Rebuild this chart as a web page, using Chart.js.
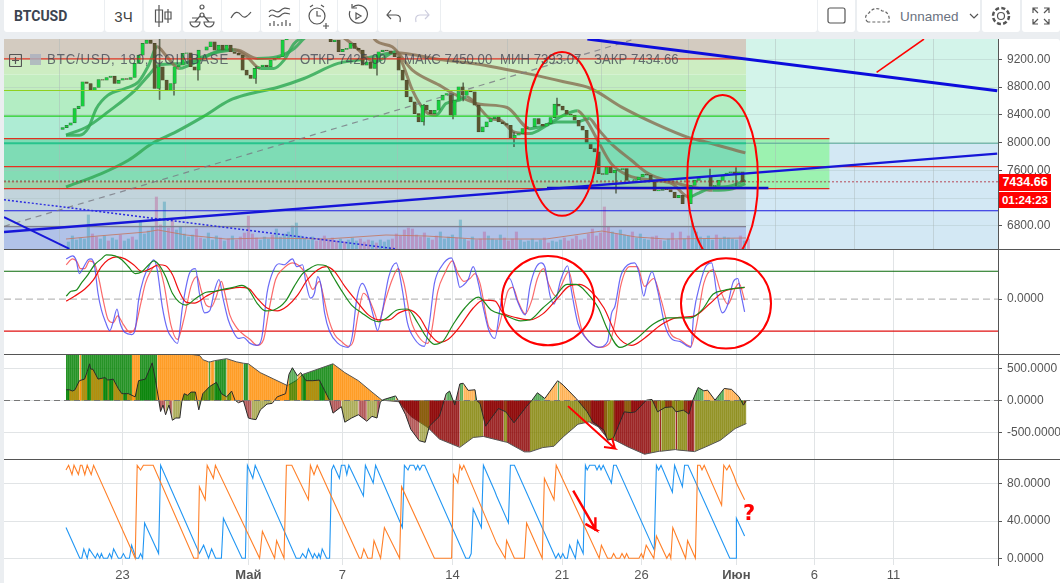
<!DOCTYPE html>
<html lang="ru"><head><meta charset="utf-8">
<script src="https://cdn.jsdelivr.net/npm/chart.js@4"></script>
<style>
html,body{margin:0;padding:0;background:#ebeef1;width:1060px;height:583px;overflow:hidden;font-family:"Liberation Sans",Arial,sans-serif}
canvas{position:absolute;left:4px}
.tb{position:absolute;top:0;height:32px;background:#fff;display:flex;align-items:center;justify-content:center;color:#444;font-size:14px;border-radius:0 0 3px 3px}
.sep{position:absolute;left:4px;width:1056px;height:1px;background:#555}
.ov{position:absolute;white-space:nowrap}
.lg{top:50px;font-size:15px;color:rgba(60,66,80,.75);transform:scaleX(.88);transform-origin:left center}
svg{fill:none;stroke:#555;stroke-width:1.2}
#bottomfill{position:absolute;left:4px;top:39px;width:1056px;height:544px;background:#fff;border-radius:3px 3px 0 0}
</style></head><body>
<div id="bottomfill"></div>
<div class="tb" style="left:4px;width:100px;font-weight:bold;font-size:14px;font-family:Roboto;color:#3c4450;justify-content:flex-start;padding-left:0"><span style="margin-left:10px">BTCUSD</span></div>
<div class="tb" style="left:105px;width:37px;font-size:15px">3Ч</div>
<div class="tb" style="left:144px;width:37px"><svg width="20" height="24"><path d="M6 1v22M2.500 6h7v12h-7zM15 5v14M12 8h6v7h-6z"/></svg></div>
<div class="tb" style="left:183px;width:38px"><svg width="26" height="24"><circle cx="13" cy="3" r="2"/><circle cx="13" cy="11" r="2"/><path d="M1 18a5 5 0 0 0 10 0zM15 18a5 5 0 0 0 10 0zM6 18l5-6M20 18l-5-6M3 14h7M16 14h7"/></svg></div>
<div class="tb" style="left:222px;width:38px"><svg width="24" height="20"><path d="M2 12c4-7 7-7 10-3s6 2 10-3"/></svg></div>
<div class="tb" style="left:261px;width:38px"><svg width="24" height="24"><path d="M1 8c4-6 7 3 11-1s6-3 10-2M1 13c4-6 7 3 11-1s6-3 10-2M2 22v-3M6 22v-5M10 22v-2M14 22v-4M18 22v-6M22 22v-3"/></svg></div>
<div class="tb" style="left:300px;width:37px"><svg width="24" height="26"><circle cx="10" cy="13" r="8"/><path d="M10 8v5h4M3 4l3-2M14 2l3 2M19 20v6M16 23h6"/></svg></div>
<div class="tb" style="left:338px;width:39px"><svg width="22" height="24"><path d="M6 3a9 9 0 1 1-3 4M5 0v4h5M9 9l5 3-5 3z"/></svg></div>
<div class="tb" style="left:378px;width:62px"><svg width="50" height="18"><path d="M4 8h8c4 0 5 3 4 7M7 3L3 8l4 4"/><path stroke="#ccd" d="M44 8h-8c-4 0-5 3-4 7M41 3l4 5-4 4"/></svg></div>
<div class="tb" style="left:441px;width:376px"></div>
<div class="tb" style="left:818px;width:37px"><svg width="20" height="20"><rect x="1" y="2" width="17" height="15" rx="2"/></svg></div>
<div class="tb" style="left:857px;width:123px;justify-content:flex-start;color:#6b7280;font-size:13.500px"><svg width="28" height="18" style="margin:0 7px 0 8px;stroke:#666;stroke-dasharray:3 2"><path d="M3 15a5 5 0 0 1 1-9c3-5 10-6 13-2c6 0 8 6 7 11z"/></svg>Unnamed<svg width="10" height="8" style="margin-left:10px"><path d="M1 2l4 4 4-4"/></svg></div>
<div class="tb" style="left:982px;width:38px"><svg width="22" height="22"><circle cx="11" cy="11" r="3.500"/><circle cx="11" cy="11" r="8" stroke-dasharray="4 2.300" stroke-width="2.500"/></svg></div>
<div class="tb" style="left:1022px;width:38px"><svg width="20" height="20"><path d="M2 7V2h5M18 7V2h-5M2 13v5h5M18 13v5h-5M2 2l5 5M18 2l-5 5M2 18l5-5M18 18l-5-5"/></svg></div>

<canvas id="c1" width="1056" height="210" style="top:39px"></canvas>
<canvas id="c2" width="1056" height="104" style="top:250px"></canvas>
<canvas id="c3" width="1056" height="104" style="top:355px"></canvas>
<canvas id="c4" width="1056" height="124" style="top:459px"></canvas>
<div class="sep" style="top:249px"></div><div class="sep" style="top:354px"></div><div class="sep" style="top:459px"></div>

<div class="ov" style="left:9px;top:53px"><svg width="13" height="13"><rect x=".5" y=".5" width="12" height="12" rx="1"/><path d="M6.500 3v7M3 6.500h7"/></svg></div>
<div class="ov" style="left:30px;top:54px;width:11px;height:11px;background:rgba(170,175,190,.8)"></div>
<div class="ov lg" style="left:47px;letter-spacing:1px">BTC/USD, 180, COINBASE</div>
<div class="ov lg" style="left:300px">ОТКР 7425.00</div>
<div class="ov lg" style="left:404px">МАКС 7450.00</div>
<div class="ov lg" style="left:500px">МИН 7393.07</div>
<div class="ov lg" style="left:594px">ЗАКР 7434.66</div>
<div class="ov" style="left:999px;top:174px;width:52px;height:17px;background:#f00;color:#fff;font-weight:bold;font-size:12.5px;line-height:17px;text-align:center">7434.66</div>
<div class="ov" style="left:999px;top:191px;width:52px;height:16px;background:#f00;color:#fff;font-weight:bold;font-size:11.500px;line-height:16px;text-align:center;border-top:1px solid #fff">01:24:23</div>
<div class="ov" style="left:743px;top:501px;font-size:21px;font-weight:bold;color:#f00;font-family:'DejaVu Sans'">?</div>

<script>
// x axis: position counted in 3-hour bars from the first candle
const xMin = -31, xMax = 466, dataEnd = 340;
const xTickPos = [28.2, 91.2, 138.2, 193.2, 248, 287.7, 335.2, 374.2, 413.8];
const xTickLabels = ['23', 'Май', '7', '14', '21', '26', 'Июн', '6', '11'];
const boldLabels = ['Май', 'Июн'];

const priceTicks = [6800, 7200, 7600, 8000, 8400, 8800, 9200];
const priceMin = 6467, priceMax = 9492;
const candleStep = 2;
const closes = [8216,8250,8284,8490,8524,8875,8851,8755,8794,8909,8899,8938,8957,8851,8899,8923,8909,8938,9140,9260,9428,9477,9428,8779,9092,8899,8755,8851,9092,9116,9284,9294,9092,9044,9332,9332,9380,9452,9332,9404,9332,9404,9308,9284,9260,9044,8972,8923,9068,9092,9116,9092,9188,9212,9236,9477,9560,9620,9700,9750,9800,9820,9780,9750,9700,9650,9560,9452,9477,9308,9342,9356,9428,9356,9332,9116,9164,9068,9212,9308,9332,9322,9284,9236,9044,8899,8659,8587,8418,8298,8539,8466,8418,8466,8611,8683,8707,8394,8611,8803,8683,8755,8731,8539,8154,8226,8298,8346,8370,8298,8274,8250,8058,8106,8130,8202,8226,8226,8346,8264,8236,8274,8360,8553,8524,8466,8409,8394,8322,8236,8178,7986,7913,7865,7553,7543,7649,7562,7601,7611,7625,7456,7456,7466,7504,7543,7529,7432,7303,7312,7336,7322,7288,7206,7240,7120,7120,7384,7456,7504,7504,7504,7370,7384,7456,7529,7562,7577,7553,7577,7434.66];
const wickX = [46.8,54,66,95,155.500,179,193.500,198.600,224,245.500,275,322,335];
const wickLo = [8620,8683,8899,8851,8970,8250,8340,8600,7940,8400,7273,7400,7380];
const wickHi = [9500,9000,9250,9100,9260,8550,8700,8860,8150,8640,7600,7620,7640];
const volumes = [700,1300,900,1100,1000,3400,1500,1200,1000,1300,800,1100,900,1400,800,1000,1200,900,2800,1500,1800,2200,5200,2400,4700,2100,2900,1900,2200,1500,1200,1400,2000,1100,1000,1600,900,1300,1100,800,1000,1300,900,1200,1600,3300,1500,1100,900,1200,1000,1400,2000,1200,1500,1700,2300,2600,1300,1100,900,1200,800,1000,1300,900,1100,800,1000,700,900,1100,800,1000,700,900,800,600,900,700,900,1000,1500,1300,1900,2100,2000,1400,1200,1600,1100,900,1300,1700,1000,1200,1400,1100,2900,1000,800,1200,900,1000,1700,1300,1000,900,1400,1100,800,1000,1700,900,700,800,1000,700,900,1100,600,800,700,900,1100,800,1000,1300,900,1000,1500,2000,1300,1600,4200,2200,1700,1500,1900,1400,1300,1700,1100,1500,1000,900,1200,1300,900,800,1000,1600,900,1700,1000,1300,2600,1700,1200,1000,1300,900,1400,1000,1200,1100,1000,900,1300,800,1000];
const volMaX = [0,16,40,46,60,80,100,130,160,180,205,240,268,285,300,340];
const volMaY = [1000,1300,1700,1900,1400,1000,1100,1000,1400,1300,1000,1000,1800,1200,1000,1100];
const volMax = 21000;

const maFastX = [0,6.7,11,15.2,21,29.5,36.3,41.4,45.6,49.8,56.6,61.7,68.4,75.2,83.6,90.4,97.2,103.9,109,114.1,119.1,130,138,142.8,154.6,164.8,168.2,173.2,180,185,190,196.9,200.3,206.2,212.1,217.2,223.9,232,240.5,248.9,255.7,260.7,265.8,272.6,281,292.9,303,311.4,315.7,321.6,333.4,339.7];
const maFastY = [8106,8106,8202,8491,8683,8779,8875,9116,9380,9260,9068,9116,9212,9308,9342,9236,9068,9068,9188,9428,9525,9700,9530,9428,9164,9308,9140,8755,8442,8394,8563,8611,8659,8515,8346,8322,8154,8130,8250,8394,8457,8298,8034,7697,7528,7456,7408,7216,7264,7336,7384,7456];
const maMidX = [0,11,21,34.6,41.4,46.4,58.3,68.4,76.9,85.3,95.5,105.6,114.1,119.1,135,150,154.6,163.1,173.2,186.7,193.5,207,220.5,232,237,245.5,255.7,261.6,265.8,272.6,282.7,291.2,303,313.1,323.3,333.4,339.7];
const maMidY = [8106,8236,8442,8755,8972,9116,9140,9236,9308,9332,9212,9236,9356,9500,9800,9750,9477,9380,9044,8827,8707,8553,8505,8200,8226,8298,8298,8346,8202,7985,7745,7553,7432,7360,7312,7336,7408];
const maLongX = [0,17.7,31.2,43,55,68.4,82,90.4,105.6,119,136,146,164.8,186.7,203.6,232,248.9,262.4,277.6,294.5,311.4,319.9,339.7];
const maLongY = [7360,7553,7745,7986,8154,8370,8611,8693,8794,8923,9140,9188,9294,9198,9140,8986,8875,8779,8515,8274,8072,8009,7851];

const bandEdges = [9492,9207,8980,8750,8380,8058,7654,7450,7336,7018,6788,6467];
const bandColors = ['#d3cbc0','#cdedc2','#c3edc0','#b3edc3','#aeecd4','#7edcb5','#84dcb5','#9dd2aa','#c2d4dc','#c6d6de','#b1c2e8'];
const futureEdges = [9492,7990,6467];
const futureColors = ['#d3f4ea','#d3e8f4'];
const boxX = [340,381.7];
const boxY = [8058,7336];
const boxColor = '#9cf2b0';

const gridPrice = [[9207,340,'#e03020',1.2],[8750,340,'#8fd020',1.2],[8380,340,'#22cc22',1.2],[8058,381.7,'#e03020',1.2],[7654,466,'#e83020',1.2],[7336,381.7,'#e03020',1.2],[7018,466,'#1a1ae0',1.2],[6788,340,'#808090',1.2]];
const tealLevel = 7990;
const currentPrice = 7434.66;
const riseX = [-31,465.6], riseY = [6711,7841];
const fallX = [260.7,465.6], fallY = [9491,8745];
const flatX = [240.5,351.2], flatY = [7345,7345];
const lowFallX = [-31,1.7], lowFallY = [6927,6470];
const dotFallX = [-31,164.8], dotFallY = [7178,6470];
const dashX = [-31,232,282.7], dashY = [6793,9034,9477];
const redStrokeX = [405.3,429], redStrokeY = [9010,9491];
const mainEllipses = [[248,8125,18.25,1180],[328.3,7471,17.7,1213]];

// oscillator pane (no scale printed except zero)
const oscMin = -55.8, oscMax = 50, oscHigh = 28.4, oscLow = -32.5;
const oscCircles = [[241,-1.5,23.1,45.4],[330,-4.3,22.5,46]];
const fastX = [0.1,3.3,5,6.7,8.4,11,12.6,14.3,16,17.7,19.7,21.9,23.6,25.5,27,29.5,32.9,34.6,36.3,38.8,41.4,43.9,45.6,48.1,50.7,53.2,55.7,58.3,61.7,64.7,66.7,69.3,71.8,74.3,76.5,78.6,81.1,83.6,86.2,88.7,92.1,95.5,98,100.5,103.9,106.5,109,113.2,115.4,118.3,120,122.2,124.2,125.9,127.6,129.3,131.8,136,141.1,143.1,145.3,148.2,150.4,153.8,155.8,158,161.4,165.1,168.2,170.7,174.1,179.1,181.7,184.2,187.6,192.7,195.2,196.9,198.6,201.1,203.6,206.2,208.7,211.3,214.4,217.2,219,221.8,225.5,229.6,232,234.7,237.5,239.4,242.1,244,247.3,250.8,252.7,256,259.7,266.2,270.8,272.7,274.5,277.3,281,284.3,286.5,288.9,290.2,293,295.8,299.5,303.2,306.9,312.4,313.9,317.1,319.8,322.8,325.4,328.2,330.6,333.7,335.9,337.4,339.3];
const fastY = [41,44,40,26,31,40,41,33,6,-11,-23,-32,-23,-10,-24,-34,-36,-31,-1,21,33,40,30,-7,-31,-40,-45,-7,26,31,6,-14,-12,9,20,0,-21,-33,-40,-39,-45,-47,-38,6,30,36,35,41,33,35,16,1,6,23,13,-14,-33,-45,-49,-38,-1,16,8,-18,-32,-14,23,37,9,-24,-40,-48,-24,16,33,42,26,12,14,20,33,16,-9,-31,-40,-7,13,21,-1,-16,13,31,37,33,3,-5,19,34,9,-25,-39,-49,-43,-15,-7,23,35,37,27,3,13,28,9,-27,-41,-43,-49,-15,16,33,37,6,-14,-7,18,21,6,-13];
const slowX = [0.1,3.3,5.5,7.2,9.3,11.8,14.3,16.4,18.6,21.1,23.6,25.8,28.7,32.1,34.6,37.1,39.7,42.2,44.8,46.4,49,52.4,55.7,59.1,62.5,65.5,67.6,70.1,72.6,75.2,77.7,79.4,81.9,85.3,88.7,92.1,95.5,98.8,101.4,104.8,108.1,113.2,116.6,120,123.4,126.7,128.4,131,134.3,137.7,141.1,143.6,146.2,148.7,151.2,153.8,156.3,159.7,163.1,166.1,169,172.4,176.6,180.8,182.5,185.9,189.3,193.2,196,198.9,202,204.5,207,211.6,215.3,218.1,220.9,223.3,226.4,229.6,232.9,235.7,238.8,241.2,244.9,248.1,251.4,254.2,257.9,262.5,267.1,271.7,274.5,277.3,281.9,285.6,289.3,293.9,297.6,302.3,306.9,312.4,315.2,318.9,323.5,327.2,330.9,334.6,336.5,339.3];
const slowY = [35,41,38,31,31,39,36,21,-1,-21,-24,-17,-26,-34,-29,-7,16,28,34,33,15,-26,-41,-19,13,23,9,-6,-8,3,18,6,-16,-29,-36,-41,-47,-41,-12,20,30,37,34,25,10,18,6,-18,-36,-43,-48,-43,-14,6,1,-11,-23,-1,20,31,16,-21,-39,-45,-36,8,26,39,26,18,21,26,16,-29,-33,-15,8,12,-4,-15,-1,21,31,16,3,16,28,3,-31,-45,-49,-45,-23,13,33,33,13,21,-1,-35,-41,-48,-27,16,30,9,-5,11,16,-1];
const signalX = [0.1,2.5,5,7.6,11,14.3,17.7,20.2,24.5,27.9,31.2,34.6,38,41.4,43.9,46.4,49.8,53.2,56.6,60,65,70.1,74.3,78.6,83.6,87.9,91.2,95.5,99.7,103.9,109.8,114.1,118.3,121.7,125.9,130.1,133.5,137.7,142.8,147.9,153,156.3,160.5,165.6,170.7,175.8,180,184.2,188.4,193.5,199.4,206.2,212.5,219,227.3,232,238.4,244,250.5,255.1,260.6,266.2,270.8,276.9,284.7,293.9,301.3,312.4,318,323.5,329.1,339.3];
const signalY = [3,8,9,16,25,35,41,45,44,40,33,26,28,35,39,35,23,6,-3,-6,1,7,8,10,12,14,10,-4,-12,-11,-2,13,26,31,35,34,23,9,-6,-14,-21,-23,-19,-11,-10,-24,-38,-46,-43,-26,-9,2,-11,-16,-22,-21,-9,1,15,15,6,-9,-31,-49,-41,-25,-19,-19,-11,5,9,12];
const triggerX = [0.1,4.2,9.3,13.5,17.7,21.1,25.3,29.5,33.8,38,42.2,46.4,49.8,53.2,56.6,60,64.2,70.1,75.2,80.3,87,91.2,95.5,100.5,105.6,110.7,115.8,120.8,125.9,130.1,134.3,139.4,145.3,151.2,156.3,161.4,166.5,171.5,176.6,181.7,186.7,191,196.9,203.6,208.7,214.6,218.1,225.5,232,238.4,245.8,251.4,256.9,262.5,269,275.4,282.8,288.4,297.6,305,314.3,321.7,329.1,339.3];
const triggerY = [-2,3,10,19,33,40,43,41,35,28,31,35,34,25,8,-3,-4,3,8,10,12,11,1,-9,-12,-7,4,20,30,33,28,13,-2,-16,-21,-21,-14,-11,-18,-35,-44,-41,-28,-9,-1,-2,-13,-19,-21,-15,1,13,15,8,-9,-37,-47,-41,-26,-19,-17,-5,8,12];

// wave pane
const waveTicks = [-500, 0, 500];
const waveMin = -911, waveMax = 708;
const outerX = [0,6.7,7.6,33,37,45.6,67,68.4,71.3,72.1,74.3,80.3,85.3,88.7,91.2,97.1,103.9,110.7,115.1,118.3,133.5,139.4,146.2,153,158,166.5,172.4,181,186.7,196.9,203.6,208.7,216.2,218.9,220.5,229.2,232,238.4,244,248.6,256,261.6,262.5,266.2,270.8,274.5,281,289.3,292.5,296.7,297.6,304.7,305.6,310.6,314.3,319.8,327.2,334.6,340.2];
const outerY = [800,800,800,800,800,800,697,636,601,601,620,651,601,580,571,434,333,232,310,405,571,434,308,131,5,-20,-247,-424,-600,-730,-576,-560,-619,-640,-650,-800,-800,-733,-712,-567,-369,-333,-350,-411,-593,-619,-723,-837,-816,-790,-790,-764,-770,-785,-796,-723,-619,-437,-359];
const outerC = ['g','o','g','o','g','o','o','o','g','o','g','o','o','g','o','o','o','o','o','g','o','o','o','o','o','r','r','r','r','y','y','r','r','y','r','r','y','y','y','y','y','y','r','r','y','r','r','r','y','r','y','r','y','r','y','y','y','y','y'];
const innerX = [0.1,1.6,3.3,4.5,6.7,9.3,10.6,11.8,12.3,13.5,16,18.6,19.4,20.8,21.4,23.6,26.2,27.9,28.7,30.4,31.2,34.6,36.3,39.7,43.1,44.8,46.4,47.3,48.5,49.8,51.5,53.2,54.9,56.9,57.9,59.1,60.8,62.5,64.7,66.4,68.4,71.8,75.2,77.7,80.3,82.8,84.5,86.2,88.7,91.2,92.9,95,97.2,100.5,103.1,105.6,109.8,111.5,113.2,115.7,117.4,120,123.4,126.7,129.3,131.8,133.5,137.7,139.4,142.8,146.2,150.4,153,155.5,157.2,158.9,164.8,166.5,169.8,172.4,176.6,179.6,181.7,186.7,190.1,191.8,194.4,196.9,198.6,201.1,204.5,205.3,207,209.8,212.5,216.2,219.9,224,230.1,232.9,235.7,239.4,245.8,246.6,248.6,255.1,260.6,263.4,269,270.8,273.6,279.1,282.5,284.7,290.2,293,295.8,299.5,303.2,305,308.7,311.5,313.4,316.1,318.9,320.8,324.5,329.1,332.8,336.5,338.7,340.2];
const innerY = [167,167,147,167,308,333,450,571,490,485,333,350,359,320,320,333,182,106,106,106,106,56,308,333,586,308,0,-172,-71,-222,-71,-308,-273,-273,-20,106,81,131,131,-146,106,217,283,106,56,146,5,-35,-5,-273,-288,-298,-146,-56,-45,56,106,409,510,384,434,308,308,318,157,0,-197,-96,-338,-273,-222,-323,-247,-273,-20,15,71,-20,-222,-449,-626,-651,-399,-247,106,146,-71,258,268,157,167,0,-47,-400,-281,-125,-177,-348,-99,0,120,31,307,290,239,31,-177,-333,-463,-619,-593,-177,-190,-177,5,16,-177,-109,-99,-177,-151,-213,5,203,150,161,5,187,172,57,-73,0];
const innerC = ['g','o','o','o','o','o','g','g','o','o','o','g','g','o','g','o','o','o','g','o','o','g','g','g','g','o','r','r','r','y','r','y','y','y','g','g','g','g','o','g','g','g','g','o','g','o','y','r','r','r','y','y','y','y','o','o','o','g','g','o','g','o','o','g','o','r','r','y','y','y','r','y','y','r','g','g','o','r','r','r','y','y','r','r','g','g','r','g','o','o','g','r','r','r','r','r','r','r','r','g','g','o','g','o','o','r','r','r','y','y','r','y','r','r','g','r','y','r','y','y','r','r','g','g','o','o','g','o','o','g','r','r'];
const arrowWaveX = [251,259.5,274.5,269,274.5,273], arrowWaveY = [-88,-329,-749,-724,-749,-582];

// aroon pane
const aroonTicks = [0, 40, 80];
const aroonMin = -7.3, aroonMax = 106.8;
const aroonUpX = [0,1.3,3,4,6.2,7.2,8,9.4,10.6,12.6,13.8,34.6,35.6,37.3,38.7,43.6,63.9,66,66.7,69.6,70.6,73.7,74.7,96.8,98.2,104.3,105.3,109,110.2,112.9,121.2,122.2,124,125.6,146.7,147.7,148.9,150.9,153,154,157.3,159.2,166.8,167.8,184.2,192.8,193.8,195.9,196.9,197.9,198.9,215.3,219.6,220.3,224.2,229.2,230.3,238.1,239.2,244,245.1,266.6,267.7,270.8,272.7,273.8,275.1,276.9,278,279.3,280.3,281.4,286.5,287.7,288.6,290.1,293.9,295.2,300.4,301.7,302.4,303.4,309.8,310.8,314.7,315.8,317,318,319.1,327.8,328.9,330.4,331.7,334.1,335.2,339.3];
const aroonUpY = [95,100,90,100,90,100,100,90,100,90,100,0,100,95,100,100,0,0,77,63,100,86,100,0,29,0,19,0,100,100,63,100,90,100,0,0,10,0,0,19,0,33,0,77,0,0,90,81,100,95,100,16,0,19,0,0,38,0,86,63,100,0,14,0,0,5,0,0,5,0,5,0,0,5,0,14,0,24,0,5,0,33,0,19,0,100,100,95,100,57,100,95,100,88,81,63];
const aroonDownX = [0,6.9,7.9,8.9,10.6,11.6,14.7,15.7,16.9,17.7,18.7,20.8,21.8,22.8,23.8,26.2,27.5,28.7,29.9,31.7,32.8,35,36.3,37.3,38.3,39.3,46.3,47.3,66.7,68.8,71.3,72.8,74.8,77.7,78.7,88,89.7,90.7,93.4,94.6,115.1,117.1,118.3,120,121.2,123.4,124.2,125.6,126.4,127.2,128.1,130.3,131.8,132.8,133.8,136.7,137.7,139.4,140.4,141.4,148.7,149.7,153.6,154.8,168.2,169.2,171,172,173.9,174.9,175.9,176.9,178.1,179.3,199.9,201.6,202.6,203.6,207.7,208.7,214.4,215.3,221.2,222.2,224.2,244.9,246.2,247.3,248.4,249.5,250.7,251.8,254.7,255.8,258.6,259.7,260.6,261.8,264.5,265.5,266.6,267.5,268.6,272.7,273.8,275.1,294.1,295.2,296.3,297.5,303.2,304.3,308.2,309.3,311,331.9,335,335.2,339.3];
const aroonDownY = [33,0,0,10,0,10,0,5,0,5,0,0,5,0,10,0,0,5,0,0,14,0,0,5,0,38,5,100,5,14,0,10,0,0,43,0,0,100,86,100,0,0,5,0,10,0,5,0,5,0,10,0,0,95,100,86,100,100,90,100,67,100,81,100,33,100,95,100,100,95,100,95,100,100,0,0,5,53,33,100,72,67,38,100,100,0,5,0,5,0,0,14,0,19,5,100,95,100,100,95,100,95,100,81,100,100,9,100,95,100,71,100,77,100,100,0,0,43,24];
const arrowAroonX = [253.6,264.9,259.7,264.9,264.7], arrowAroonY = [72.8,30.6,37,30.6,44];

const G = 'rgba(225,228,230,1)';
function pts(xs, ys){ return xs.map((x,i)=>({x, y:ys[i]})); }
function line(xs, ys, color, width, extra){
  return Object.assign({type:'line', data:pts(xs,ys), borderColor:color, borderWidth:width, pointRadius:0, tension:0, fill:false, order:1}, extra||{});
}
function hline(v, x0, x1, color, width, extra){ return line([x0,x1],[v,v],color,width,extra); }
function noPad(a){ a.paddingTop=0; a.paddingBottom=0; a.paddingLeft=0; a.paddingRight=0; }
function xScale(labels, gridColor){
  return {type:'linear', min:xMin, max:xMax, offset:false,
    border:{display:false},
    grid:{color:gridColor, drawTicks:false, lineWidth:1},
    afterBuildTicks:a=>{a.ticks = xTickPos.map(v=>({value:v}));},
    afterFit:a=>{a.height = labels?18:0; noPad(a);},
    ticks:{display:labels, autoSkip:false, maxRotation:0, padding:3, color:'#555',
      font:c=>({family:'Liberation Sans', size:13, weight:boldLabels.includes(xTickLabels[c.index])?'bold':'normal'}),
      callback:(v,i)=>xTickLabels[i]}};
}
function yScale(min, max, ticks, decimals, gridColor){
  return {position:'right', min, max,
    border:{color:'#555', display:true},
    grid:{color:gridColor, tickColor:'#555', tickLength:4, drawTicks:true},
    afterBuildTicks:a=>{a.ticks = ticks.map(v=>({value:v}));},
    afterFit:a=>{a.width = 62; noPad(a);},
    ticks:{color:'#555', padding:5, font:{family:'Liberation Sans', size:12}, callback:v=>v.toFixed(decimals)}};
}
const bandPlugin = {id:'bands', beforeDraw(ch){
  const {ctx, chartArea:a, scales:{x, y}} = ch;
  const X = x.getPixelForValue(dataEnd);
  ctx.save();
  bandColors.forEach((c,i)=>{
    const t=y.getPixelForValue(bandEdges[i]), b=y.getPixelForValue(bandEdges[i+1]);
    ctx.fillStyle=c; ctx.fillRect(a.left,t,X-a.left,b-t);
  });
  futureColors.forEach((c,i)=>{
    const t=y.getPixelForValue(futureEdges[i]), b=y.getPixelForValue(futureEdges[i+1]);
    ctx.fillStyle=c; ctx.fillRect(X,t,a.right-X,b-t);
  });
  ctx.fillStyle=boxColor;
  const l=x.getPixelForValue(boxX[0]), r=x.getPixelForValue(boxX[1]), t=y.getPixelForValue(boxY[0]), b=y.getPixelForValue(boxY[1]);
  ctx.fillRect(l,t,r-l,b-t);
  ctx.restore();
}};
function ellipsePlugin(list, yId, lw){ return {id:'ell'+yId, afterDatasetsDraw(ch){
  const {ctx, chartArea:a, scales} = ch; const x=scales.x, y=scales[yId];
  ctx.save(); ctx.beginPath(); ctx.rect(a.left,a.top,a.right-a.left,a.bottom-a.top); ctx.clip();
  ctx.strokeStyle='#f00'; ctx.lineWidth=lw;
  list.forEach(([cx,cy,rx,ry])=>{
    const px=x.getPixelForValue(cx), py=y.getPixelForValue(cy);
    const prx=Math.abs(x.getPixelForValue(cx+rx)-px), pry=Math.abs(y.getPixelForValue(cy+ry)-py);
    ctx.beginPath(); ctx.ellipse(px,py,prx,pry,0,0,Math.PI*2); ctx.stroke();
  });
  ctx.restore();
}};}
const baseOpts = {responsive:false, animation:false, events:[], layout:{padding:0},
  plugins:{legend:{display:false}, tooltip:{enabled:false}}};
const maSeg = {segment:{borderColor:c=>c.p1.parsed.y>=c.p0.parsed.y?'rgba(52,170,88,.85)':'rgba(135,110,80,.8)'}, cubicInterpolationMode:'monotone'};

new Chart(document.getElementById('c1'),{type:'bar',
  data:{datasets:[
    line(redStrokeX,redStrokeY,'#f00',1.6,{order:0}),
    line(riseX,riseY,'#1616d8',2.4,{order:0}),
    line(fallX,fallY,'#0c0cdc',3,{order:0}),
    line(flatX,flatY,'#1010c8',2.6,{order:0}),
    line(lowFallX,lowFallY,'#1616d8',2,{order:0}),
    line(dotFallX,dotFallY,'#2a2ae0',1.5,{order:0,borderDash:[2,2]}),
    line(dashX,dashY,'rgba(120,120,130,.8)',1.2,{order:0,borderDash:[6,5]}),
    hline(currentPrice,xMin,xMax,'rgba(176,32,48,.8)',1,{order:0,borderDash:[2,2]}),
    hline(7450,xMin,dataEnd,'rgba(80,90,60,.55)',1,{order:0,borderDash:[2,2]}),
    hline(tealLevel,xMin,dataEnd,'#26c48c',2.2,{order:2}),
    hline(tealLevel,dataEnd,xMax,'#5aaa98',1.2,{order:2}),
    ...gridPrice.map(g=>hline(g[0],xMin,g[1],g[2],g[3],{order:2})),
    {type:'bar', label:'candles', order:3,
      data:closes.map((c,i)=>({x:i*candleStep, y:[i?closes[i-1]:c-25, c]})),
      backgroundColor:closes.map((c,i)=>(i&&c<closes[i-1])?'#5a5430':'#16cf3e'),
      borderColor:closes.map((c,i)=>(i&&c<closes[i-1])?'#4a452a':'#2f6a36'),
      borderWidth:.6, borderSkipped:false, barThickness:3.4, yAxisID:'y'},
    {type:'bar', label:'wicks', order:4,
      data:wickX.map((x,i)=>({x, y:[wickLo[i],wickHi[i]]})),
      backgroundColor:'rgba(70,80,60,.8)', barThickness:1, yAxisID:'y'},
    line(maFastX,maFastY,'#3a5',3,Object.assign({order:5},maSeg)),
    line(maMidX,maMidY,'#3a5',3,Object.assign({order:5},maSeg)),
    line(maLongX,maLongY,'#3a5',3,Object.assign({order:5},maSeg)),
    line(volMaX,volMaY,'rgba(195,120,100,.85)',1,{order:6,yAxisID:'yv'}),
    {type:'bar', label:'volume', order:7, yAxisID:'yv',
      data:volumes.map((v,i)=>({x:i*candleStep,y:v})),
      backgroundColor:closes.map((c,i)=>(i&&c<closes[i-1])?'rgba(190,90,150,.42)':'rgba(70,160,185,.48)'),
      barThickness:2.4}
  ]},
  options:Object.assign({},baseOpts,{scales:{
    x:xScale(false,'rgba(170,185,185,.45)'),
    y:yScale(priceMin,priceMax,priceTicks,2,'rgba(170,190,190,.35)'),
    yv:{display:false,min:0,max:volMax}
  }}),
  plugins:[bandPlugin, ellipsePlugin(mainEllipses,'y',2)]
});

new Chart(document.getElementById('c2'),{type:'line',
  data:{datasets:[
    hline(oscHigh,xMin,xMax,'#0a6a0a',1.2,{order:4}),
    hline(oscLow,xMin,xMax,'#e01010',1.2,{order:4}),
    hline(0,xMin,xMax,'#bbb',1.2,{order:5,borderDash:[7,4]}),
    line(fastX,fastY,'rgba(80,80,245,.85)',1.2,{order:1,cubicInterpolationMode:'monotone'}),
    line(slowX,slowY,'rgba(250,80,80,.85)',1.2,{order:1,cubicInterpolationMode:'monotone'}),
    line(signalX,signalY,'#1c8a1c',1.2,{order:0,cubicInterpolationMode:'monotone'}),
    line(triggerX,triggerY,'#f01010',1.2,{order:0,cubicInterpolationMode:'monotone'})
  ]},
  options:Object.assign({},baseOpts,{scales:{x:xScale(false,G), y:yScale(oscMin,oscMax,[0],4,'transparent')}}),
  plugins:[ellipsePlugin(oscCircles,'y',2)]
});

const palette = {g:[0,128,0], o:[255,140,0], r:[139,0,0], y:[128,128,0]};
const patternCache = {};
function stripe(k, a){
  const key = k+a;
  if(patternCache[key]) return patternCache[key];
  const c = palette[k];
  const cv = document.createElement('canvas'); cv.width = 2; cv.height = 1;
  const g = cv.getContext('2d');
  g.fillStyle = `rgba(${c[0]},${c[1]},${c[2]},${a})`; g.fillRect(0,0,1,1);
  g.fillStyle = `rgba(${c[0]},${c[1]},${c[2]},${a-.1})`; g.fillRect(1,0,1,1);
  return patternCache[key] = g.createPattern(cv,'repeat');
}
new Chart(document.getElementById('c3'),{type:'line',
  data:{datasets:[
    line(arrowWaveX,arrowWaveY,'#f00',2,{order:-1,borderJoinStyle:'miter'}),
    line(innerX,innerY,'#2a2a2a',1,{order:0,fill:'origin',
      segment:{backgroundColor:c=>stripe(innerC[c.p0DataIndex],.65)}}),
    line(outerX,outerY,'#555',1,{order:1,fill:'origin',
      segment:{backgroundColor:c=>stripe(outerC[c.p0DataIndex],.85)}}),
    hline(0,xMin,xMax,'#777',1.2,{order:-2,borderDash:[6,4]})
  ]},
  options:Object.assign({},baseOpts,{scales:{x:xScale(false,G), y:yScale(waveMin,waveMax,waveTicks,4,G)}})
});

new Chart(document.getElementById('c4'),{type:'line',
  data:{datasets:[
    line(arrowAroonX,arrowAroonY,'#f00',2.4,{order:-1}),
    line(aroonUpX,aroonUpY,'#ff7f27',1.1),
    line(aroonDownX,aroonDownY,'#2196f3',1.1)
  ]},
  options:Object.assign({},baseOpts,{scales:{x:xScale(true,G), y:yScale(aroonMin,aroonMax,aroonTicks,4,G)}})
});
</script>
</body></html>
